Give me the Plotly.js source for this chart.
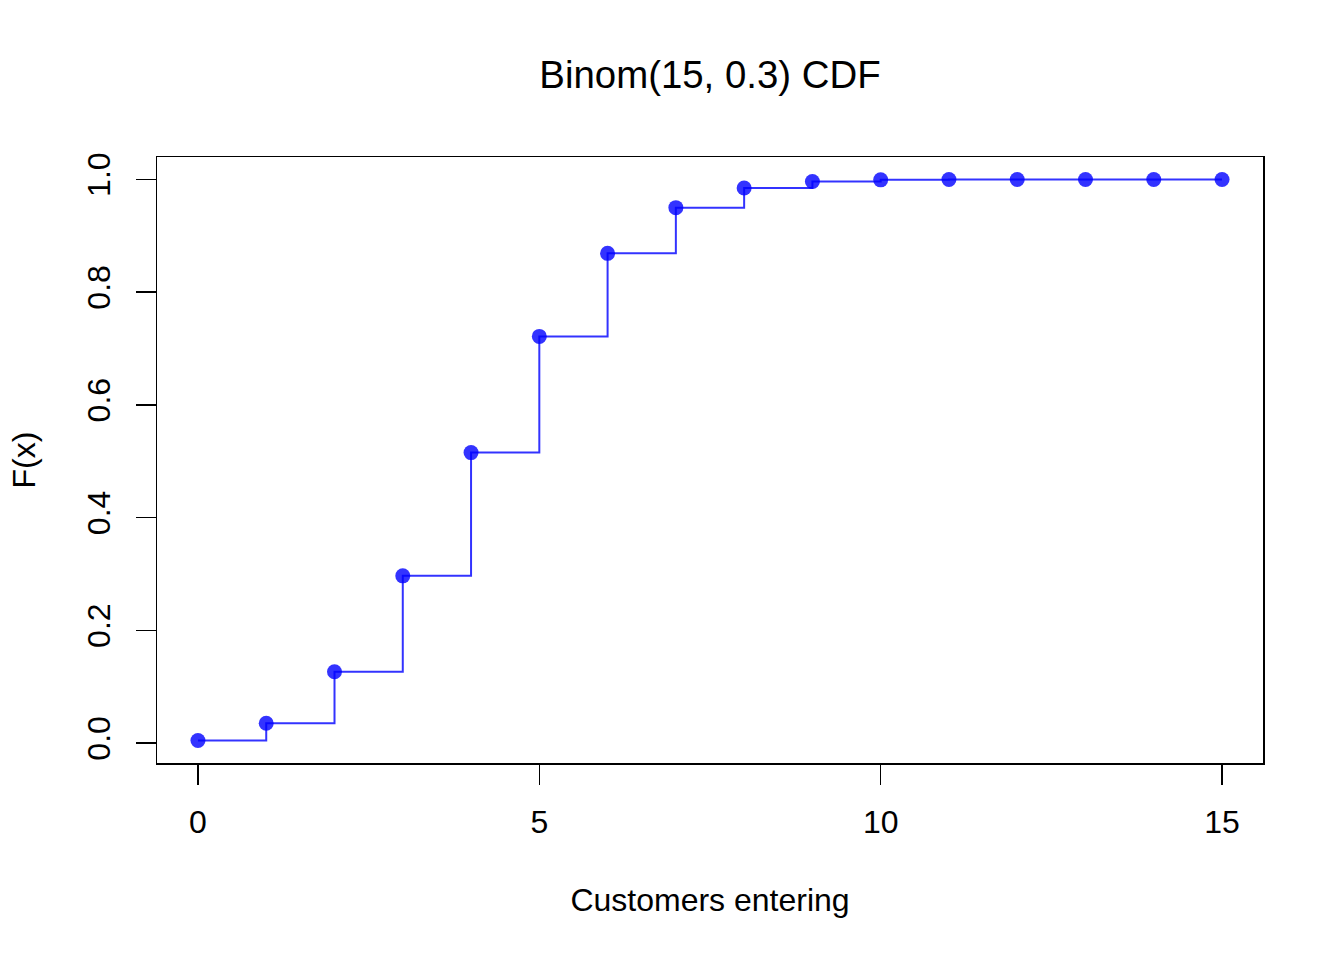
<!DOCTYPE html>
<html>
<head>
<meta charset="utf-8">
<script src="https://cdn.plot.ly/plotly-3.0.1.min.js"></script>
<style>html,body{margin:0;padding:0;background:#fff;}#chart{width:1344px;height:960px;}</style>
</head>
<body>
<div id="chart"></div>
<script>
const customers = [0,1,2,3,4,5,6,7,8,9,10,11,12,13,14,15];
const cdfValues = [0.0047,0.0353,0.1268,0.2969,0.5155,0.7216,0.8689,0.9500,0.9848,0.9963,0.9993,0.9999,1.0,1.0,1.0,1.0];
const xTicks = [0,5,10,15];
const yTicks = [0,0.2,0.4,0.6,0.8,1.0];
const yTickLabels = ["0.0","0.2","0.4","0.6","0.8","1.0"];

const font = "Liberation Sans, Arial, Helvetica, sans-serif";

const traces = [
  {x: customers, y: cdfValues, type: 'scatter', mode: 'lines',
   line: {shape: 'hv', color: 'rgba(0,0,255,0.8)', width: 2}, hoverinfo: 'skip'},
  {x: customers, y: cdfValues, type: 'scatter', mode: 'markers',
   marker: {size: 15, color: 'rgba(0,0,255,0.8)'}}
];

const layout = {
  width: 1344, height: 960,
  margin: {l: 157, r: 81, t: 157, b: 197},
  paper_bgcolor: '#fff', plot_bgcolor: '#fff',
  showlegend: false,
  font: {family: font, color: '#000', size: 32},
  title: {text: 'Binom(15, 0.3) CDF', font: {size: 38.4, family: font, color: '#000'},
          x: 0.5, xref: 'paper', y: 1 - 75/960, yref: 'container', yanchor: 'middle'},
  xaxis: {
    range: [-0.6, 15.6], showgrid: false, zeroline: false,
    tickvals: xTicks, ticktext: xTicks.map(String),
    ticks: 'outside', ticklen: 20, tickwidth: 1.5, tickcolor: '#000',
    ticklabelstandoff: 10,
    showline: true, mirror: true, linecolor: '#000', linewidth: 1.5,
    tickfont: {size: 32},
    title: {text: 'Customers entering', font: {size: 32}, standoff: 49},
    automargin: false
  },
  yaxis: {
    range: [-0.0351, 1.0398], showgrid: false, zeroline: false,
    tickvals: yTicks, ticktext: yTickLabels,
    ticks: 'outside', ticklen: 20, tickwidth: 1.5, tickcolor: '#000',
    tickangle: -90, ticklabelstandoff: 13,
    showline: true, mirror: true, linecolor: '#000', linewidth: 1.5,
    tickfont: {size: 32},
    title: {text: 'F(x)', font: {size: 32}, standoff: 35},
    automargin: false
  }
};

Plotly.newPlot('chart', traces, layout, {displayModeBar: false, staticPlot: true});
</script>
</body>
</html>
